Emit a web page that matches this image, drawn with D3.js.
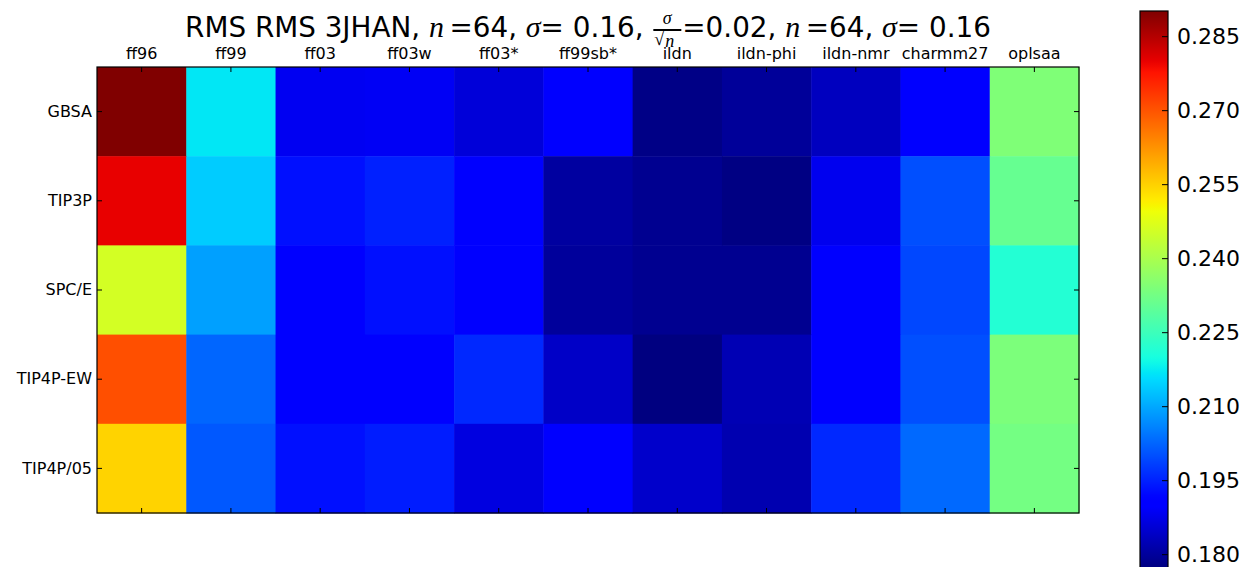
<!DOCTYPE html>
<html>
<head>
<meta charset="utf-8">
<script src="https://cdn.jsdelivr.net/npm/d3@7"></script>
<style>
  body { margin: 0; background: #fff; }
  text { font-family: "DejaVu Sans", sans-serif; }
</style>
</head>
<body>
<div id="chart"></div>
<script>
// force fields (columns) and solvent models (rows)
const models = ['ff96', 'ff99', 'ff03', 'ff03w', 'ff03*', 'ff99sb*', 'ildn', 'ildn-phi', 'ildn-nmr', 'charmm27', 'oplsaa'];
const solvents = ['GBSA', 'TIP3P', 'SPC/E', 'TIP4P-EW', 'TIP4P/05'];

// RMS values, one array per solvent row
const gbsa    = [0.2901, 0.2169, 0.1884, 0.1886, 0.1859, 0.1900, 0.1778, 0.1797, 0.1834, 0.1898, 0.2342];
const tip3p   = [0.2799, 0.2139, 0.1930, 0.1948, 0.1902, 0.1804, 0.1788, 0.1775, 0.1881, 0.2001, 0.2307];
const spce    = [0.2457, 0.2090, 0.1905, 0.1930, 0.1897, 0.1799, 0.1788, 0.1788, 0.1902, 0.1992, 0.2215];
const tip4pew = [0.2705, 0.2026, 0.1900, 0.1900, 0.1957, 0.1842, 0.1772, 0.1823, 0.1900, 0.2001, 0.2337];
const tip4p05 = [0.2547, 0.2011, 0.1930, 0.1944, 0.1866, 0.1902, 0.1846, 0.1819, 0.1957, 0.2029, 0.2326];
const rows = [gbsa, tip3p, spce, tip4pew, tip4p05];

const cbTicks = [0.180, 0.195, 0.210, 0.225, 0.240, 0.255, 0.270, 0.285];

const width = 1244, height = 567;
const plot = { x0: 97, x1: 1079, y0: 67, y1: 513 };

// matplotlib "jet" segment data
const jetR = d3.scaleLinear().domain([0, 0.35, 0.66, 0.89, 1]).range([0, 0, 1, 1, 0.5]).clamp(true);
const jetG = d3.scaleLinear().domain([0, 0.125, 0.375, 0.64, 0.91, 1]).range([0, 0, 1, 1, 0, 0]).clamp(true);
const jetB = d3.scaleLinear().domain([0, 0.11, 0.34, 0.65, 1]).range([0.5, 1, 1, 0, 0]).clamp(true);
function jet(t) {
    return d3.rgb(jetR(t) * 255, jetG(t) * 255, jetB(t) * 255).formatHex();
}

const cells = [];
rows.forEach((r, i) => r.forEach((v, j) => cells.push({ solvent: solvents[i], model: models[j], value: v })));
const extent = d3.extent(cells, d => d.value);
const norm = d3.scaleLinear().domain(extent).range([0, 1]);

const svg = d3.select('#chart').append('svg')
    .attr('width', width)
    .attr('height', height);

const x = d3.scaleBand().domain(models).range([plot.x0, plot.x1]);
const y = d3.scaleBand().domain(solvents).range([plot.y0, plot.y1]);

// heatmap cells
svg.append('g').selectAll('rect')
    .data(cells)
    .join('rect')
    .attr('x', d => x(d.model))
    .attr('y', d => y(d.solvent))
    .attr('width', x.bandwidth() + 0.5)
    .attr('height', y.bandwidth() + 0.5)
    .attr('fill', d => jet(norm(d.value)));

// axes, ticks pointing inward
function styleAxis(g, fontSize) {
    g.select('.domain').remove();
    g.selectAll('.tick line').attr('stroke', '#000');
    g.selectAll('.tick text').attr('fill', '#000').style('font-size', fontSize + 'px');
}
svg.append('g').attr('transform', `translate(0,${plot.y0})`)
    .call(d3.axisTop(x).tickSize(-5).tickPadding(8))
    .call(g => styleAxis(g, 16));
svg.append('g').attr('transform', `translate(0,${plot.y1})`)
    .call(d3.axisBottom(x).tickSize(-5).tickFormat(''))
    .call(g => styleAxis(g, 16));
svg.append('g').attr('transform', `translate(${plot.x0},0)`)
    .call(d3.axisLeft(y).tickSize(-5).tickPadding(5))
    .call(g => styleAxis(g, 16));
svg.append('g').attr('transform', `translate(${plot.x1},0)`)
    .call(d3.axisRight(y).tickSize(-5).tickFormat(''))
    .call(g => styleAxis(g, 16));

svg.append('rect')
    .attr('x', plot.x0).attr('y', plot.y0)
    .attr('width', plot.x1 - plot.x0).attr('height', plot.y1 - plot.y0)
    .attr('fill', 'none').attr('stroke', '#000').attr('stroke-width', 1.2);

// title, laid out piece by piece so the fraction can sit inline
const title = svg.append('g');
const sans = 'DejaVu Sans', serif = 'Liberation Serif';
const pieces = [
    { t: 'RMS RMS 3JHAN, ', f: sans },
    { t: 'n', f: serif, it: true },
    { t: '\u2009=64, ', f: sans },
    { t: 'σ', f: serif, it: true },
    { t: '= 0.16, ', f: sans },
    { frac: true, w: 28 },
    { t: '=0.02, ', f: sans },
    { t: 'n', f: serif, it: true },
    { t: '\u2009=64, ', f: sans },
    { t: 'σ', f: serif, it: true },
    { t: '= 0.16', f: sans }
];
let cursor = 0;
const baseY = 37;
pieces.forEach(p => {
    if (p.frac) {
        const fx = cursor + 1;
        title.append('text').attr('x', fx + p.w / 2).attr('y', baseY - 13)
            .attr('text-anchor', 'middle')
            .style('font-family', serif).style('font-style', 'italic').style('font-size', '18px')
            .text('σ');
        title.append('line').attr('x1', fx).attr('x2', fx + p.w)
            .attr('y1', baseY - 7).attr('y2', baseY - 7)
            .attr('stroke', '#000').attr('stroke-width', 2);
        title.append('text').attr('x', fx + 1).attr('y', baseY + 8)
            .style('font-family', serif).style('font-size', '18px')
            .text('√');
        title.append('text').attr('x', fx + 12).attr('y', baseY + 10)
            .style('font-family', serif).style('font-style', 'italic').style('font-size', '18px')
            .text('n');
        cursor += p.w + 2;
        return;
    }
    const t = title.append('text')
        .attr('x', cursor).attr('y', baseY)
        .attr('xml:space', 'preserve')
        .style('white-space', 'pre')
        .style('font-family', p.f)
        .style('font-style', p.it ? 'italic' : 'normal')
        .style('font-size', p.it ? '30px' : '27.8px')
        .text(p.t);
    cursor += t.node().getComputedTextLength();
});
title.attr('transform', `translate(${(plot.x0 + plot.x1) / 2 - cursor / 2},0)`);

// colorbar
const cb = { x: 1140, w: 28, top: 11, bottom: 568 };
const cy = d3.scaleLinear().domain(extent).range([cb.bottom, cb.top]);
const grad = svg.append('defs').append('linearGradient')
    .attr('id', 'jetgrad')
    .attr('x1', 0).attr('y1', 1).attr('x2', 0).attr('y2', 0);
grad.selectAll('stop')
    .data(d3.range(0, 1.0001, 0.01))
    .join('stop')
    .attr('offset', d => d)
    .attr('stop-color', d => jet(d));
svg.append('rect')
    .attr('x', cb.x).attr('y', cb.top)
    .attr('width', cb.w).attr('height', cb.bottom - cb.top)
    .attr('fill', 'url(#jetgrad)')
    .attr('stroke', '#000').attr('stroke-width', 1.2);
svg.append('g').attr('transform', `translate(${cb.x + cb.w},0)`)
    .call(d3.axisRight(cy).tickValues(cbTicks).tickSize(-6).tickPadding(9).tickFormat(d3.format('.3f')))
    .call(g => styleAxis(g, 22));
</script>
</body>
</html>
